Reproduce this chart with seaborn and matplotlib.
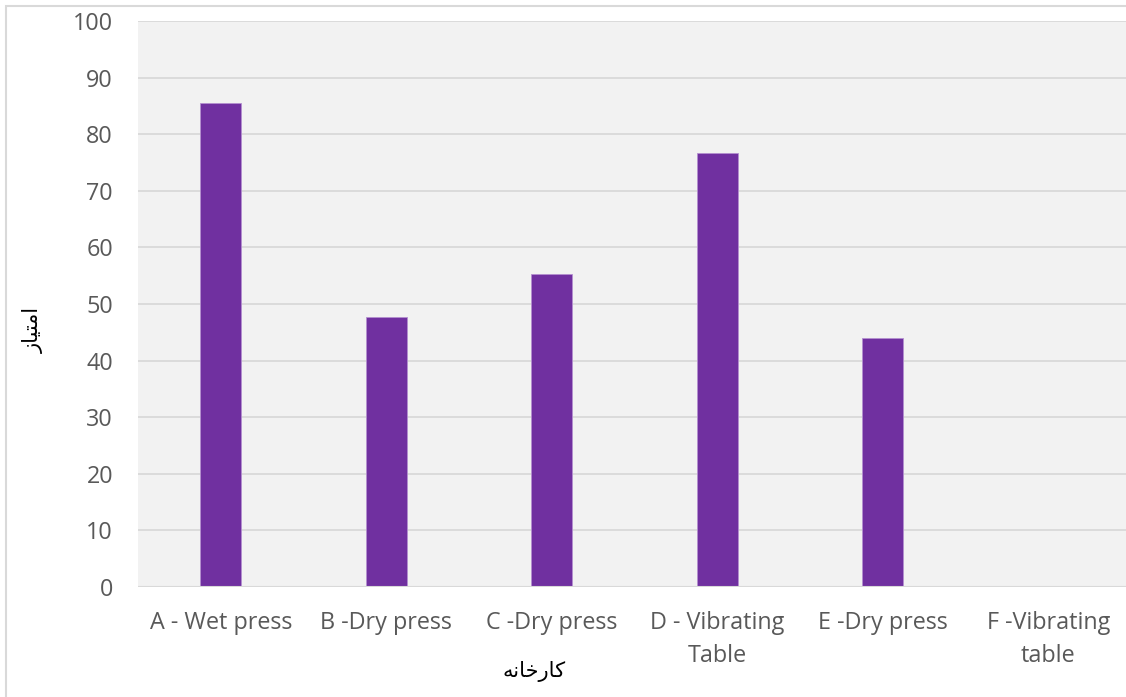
import matplotlib
matplotlib.use("Agg")
import matplotlib.pyplot as plt
import seaborn as sns
import pandas as pd
from matplotlib.patches import Rectangle

# Factory scores
categories = ["A - Wet press", "B -Dry press", "C -Dry press",
              "D - Vibrating\nTable", "E -Dry press", "F -Vibrating\ntable"]
scores = [85.6, 47.7, 55.3, 76.6, 44.0, 0.0]
y_ticks = [0, 10, 20, 30, 40, 50, 60, 70, 80, 90, 100]

# Persian axis titles in presentation forms (visual order)
y_title = "\uFEAF\uFE8E\uFEF4\uFE98\uFEE3\uFE8D"          # امتیاز
x_title = "\uFEEA\uFEE7\uFE8E\uFEA7\uFEAD\uFE8E\uFB90"    # کارخانه

df = pd.DataFrame({"factory": categories, "score": scores})

sns.set_theme(style="white")
plt.rcParams["font.family"] = ["Open Sans", "DejaVu Sans"]

W, H = 1126, 697
fig = plt.figure(figsize=(W / 100, H / 100), dpi=100)
ax = fig.add_axes([138 / W, 1 - 587 / H, (W - 138) / W, (587 - 21) / H])
ax.set_facecolor("#F2F2F2")

sns.barplot(data=df, x="factory", y="score", color="#7030A0",
            saturation=1, width=0.25, ax=ax, zorder=3,
            edgecolor="#B48FD0", linewidth=0.6)

ax.set_ylim(0, 100)
ax.set_xlim(-0.5, 5.47)
ax.set_yticks(y_ticks)
ax.yaxis.grid(True, color="#D9D9D9", linewidth=1.3, zorder=0)
ax.set_axisbelow(True)
for s in ax.spines.values():
    s.set_visible(False)
ax.axhline(0, color="#D9D9D9", linewidth=1.5, zorder=4)

ax.tick_params(axis="both", length=0, labelsize=16.8, labelcolor="#595959")
ax.tick_params(axis="y", pad=18)
ax.tick_params(axis="x", pad=17.5)
for lbl in ax.get_xticklabels():
    lbl.set_linespacing(1.5)
    lbl.set_verticalalignment("top")

ax.set_xlabel("")
ax.set_ylabel("")
fig.text(534 / W, 1 - 672 / H, x_title, family="DejaVu Sans", fontsize=15,
         color="black", ha="center", va="center")
fig.text(33 / W, 1 - 330 / H, y_title, family="DejaVu Sans", fontsize=15,
         color="black", ha="center", va="center", rotation=90)

# chart frame
fig.add_artist(Rectangle((5.5 / W, -0.1), 1.2, 1 - 5.5 / H + 0.1,
                         transform=fig.transFigure, fill=False,
                         edgecolor="#D9D9D9", linewidth=1.5))

fig.savefig("out.png", dpi=100)
